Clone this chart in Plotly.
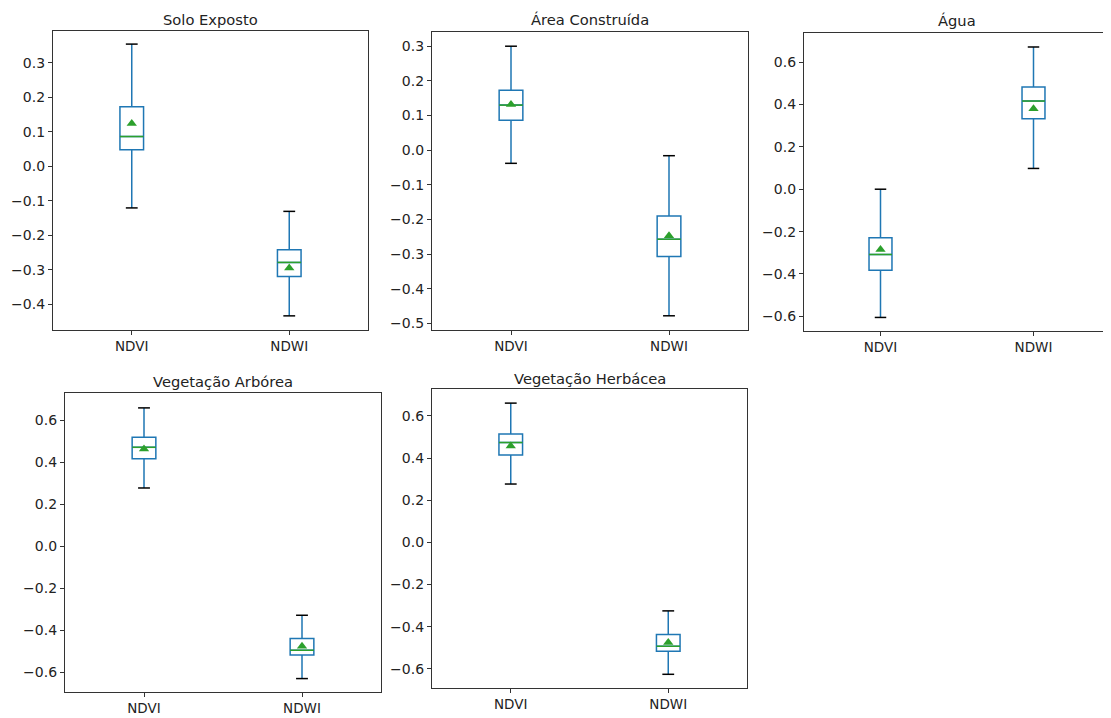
import plotly.graph_objects as go

# ---------------- data ----------------
titles = ["Solo Exposto", "Área Construída", "Água", "Vegetação Arbórea", "Vegetação Herbácea"]
categories = ["NDVI", "NDWI"]

# per panel: [NDVI, NDWI]
upper_whisker = [[0.354, -0.131], [0.300, -0.016], [0.000, 0.671], [0.660, -0.329], [0.661, -0.325]]
q3_values     = [[0.172, -0.242], [0.173, -0.190], [-0.229, 0.482], [0.520, -0.440], [0.514, -0.437]]
median_values = [[0.086, -0.279], [0.130, -0.257], [-0.308, 0.416], [0.472, -0.496], [0.474, -0.493]]
mean_values   = [[0.124, -0.295], [0.132, -0.247], [-0.284, 0.380], [0.464, -0.477], [0.458, -0.475]]
q1_values     = [[0.048, -0.320], [0.086, -0.307], [-0.382, 0.333], [0.418, -0.518], [0.415, -0.517]]
lower_whisker = [[-0.121, -0.434], [-0.038, -0.478], [-0.605, 0.098], [0.278, -0.631], [0.277, -0.626]]

y_ranges = [[-0.475, 0.392], [-0.519, 0.341], [-0.669, 0.737], [-0.695, 0.731], [-0.691, 0.728]]
y_ticks = [
    [-0.4, -0.3, -0.2, -0.1, 0.0, 0.1, 0.2, 0.3],
    [-0.5, -0.4, -0.3, -0.2, -0.1, 0.0, 0.1, 0.2, 0.3],
    [-0.6, -0.4, -0.2, 0.0, 0.2, 0.4, 0.6],
    [-0.6, -0.4, -0.2, 0.0, 0.2, 0.4, 0.6],
    [-0.6, -0.4, -0.2, 0.0, 0.2, 0.4, 0.6],
]

# ---------------- layout (screen pixels) ----------------
SCREEN_W, SCREEN_H = 1111, 718
OFF = 8  # default page body margin
W, H = SCREEN_W - OFF, SCREEN_H - OFF
panels_px = [  # x0, x1, y0(top), y1(bottom) on screen
    (53, 368, 31, 330),
    (432, 748, 32, 330),
    (804, 1110, 33, 331),
    (65, 381, 393, 692),
    (432, 747, 389, 688),
]
title_centers_px = [20, 20, 21, 381, 378]

BLUE = "#1f77b4"
GREEN = "#2ca02c"
BOX_W = 0.15
CAP_W = 0.075
FONT = "DejaVu Sans"
positions = [1, 2]


def fmt(v):
    s = f"{abs(v):.1f}"
    return ("\u2212" + s) if v < -1e-9 else s


fig = go.Figure()
annotations = []
for i in range(5):
    ax = "" if i == 0 else str(i + 1)
    xref = "x" + ax
    yref = "y" + ax
    x0, x1, t, b = [v - OFF for v in panels_px[i]]

    fig.add_trace(go.Box(
        x=positions,
        q1=q1_values[i], median=median_values[i], q3=q3_values[i],
        lowerfence=lower_whisker[i], upperfence=upper_whisker[i],
        width=BOX_W, whiskerwidth=0,
        fillcolor="rgba(255,255,255,0)",
        line=dict(color=BLUE, width=1.5),
        xaxis=xref, yaxis=yref, showlegend=False, hoverinfo="skip",
    ))
    # median lines
    mx, my = [], []
    for p, m in zip(positions, median_values[i]):
        mx += [p - BOX_W / 2, p + BOX_W / 2, None]
        my += [m, m, None]
    fig.add_trace(go.Scatter(x=mx, y=my, mode="lines", line=dict(color=GREEN, width=1.5),
                             xaxis=xref, yaxis=yref, showlegend=False, hoverinfo="skip"))
    # caps
    cx, cy = [], []
    for p, hi, lo in zip(positions, upper_whisker[i], lower_whisker[i]):
        cx += [p - CAP_W / 2, p + CAP_W / 2, None, p - CAP_W / 2, p + CAP_W / 2, None]
        cy += [hi, hi, None, lo, lo, None]
    fig.add_trace(go.Scatter(x=cx, y=cy, mode="lines", line=dict(color="black", width=1.5),
                             xaxis=xref, yaxis=yref, showlegend=False, hoverinfo="skip"))
    # means
    fig.add_trace(go.Scatter(x=positions, y=mean_values[i], mode="markers",
                             marker=dict(symbol="triangle-up", color=GREEN, size=9),
                             xaxis=xref, yaxis=yref, showlegend=False, hoverinfo="skip"))

    axis_common = dict(showline=True, mirror=True, linecolor="#333", linewidth=1.2,
                       showgrid=False, zeroline=False, ticks="outside", ticklen=4,
                       tickcolor="#333", fixedrange=True)
    fig.layout["xaxis" + ax] = dict(
        domain=[x0 / W, min(x1 / W, 1)], anchor=yref, range=[0.5, 2.5],
        tickvals=positions, ticktext=categories,
        tickfont=dict(family=FONT, size=13.5, color="#222"), **axis_common)
    fig.layout["yaxis" + ax] = dict(
        domain=[1 - b / H, 1 - t / H], anchor=xref, range=y_ranges[i],
        tickvals=y_ticks[i], ticktext=[fmt(v) for v in y_ticks[i]],
        tickfont=dict(family=FONT, size=14, color="#222"), **axis_common)
    annotations.append(dict(
        text=titles[i], x=(x0 + x1) / 2 / W, y=1 - (title_centers_px[i] - OFF) / H,
        xref="paper", yref="paper",
        xanchor="center", yanchor="middle", showarrow=False,
        font=dict(family=FONT, size=14.7, color="#222")))

fig.update_layout(
    width=W, height=H, margin=dict(l=0, r=0, t=0, b=0),
    paper_bgcolor="white", plot_bgcolor="white",
    boxmode="overlay", annotations=annotations,
)
fig.write_html("out.html")
